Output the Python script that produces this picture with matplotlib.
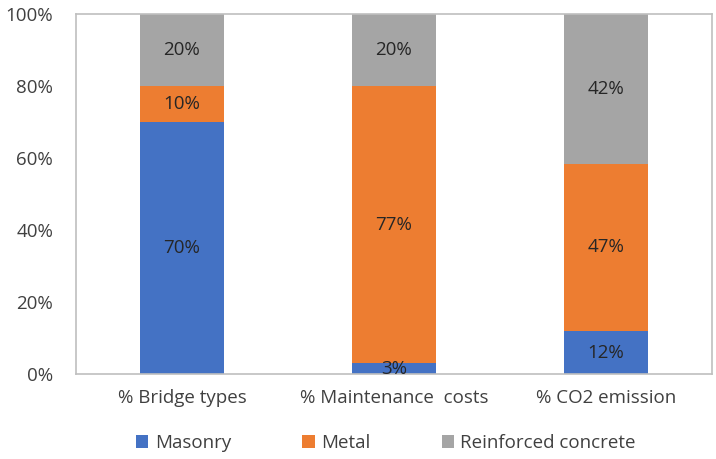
import matplotlib
matplotlib.use("Agg")
import matplotlib.pyplot as plt
import numpy as np

categories = ["% Bridge types", "% Maintenance  costs", "% CO2 emission"]
series_names = ["Masonry", "Metal", "Reinforced concrete"]
masonry = [70, 3, 12]
metal = [10, 77, 47]
concrete = [20, 20, 42]
colors = ["#4472C4", "#ED7D31", "#A5A5A5"]

plt.rcParams['font.family'] = ['Open Sans', 'DejaVu Sans']

fig = plt.figure(figsize=(7.16, 4.59), dpi=100)
ax = fig.add_axes([76/716, 1-374/459, 636/716, 360/459])

data = np.array([masonry, metal, concrete], dtype=float)
totals = data.sum(axis=0)
shares = data / totals * 100
x = np.arange(len(categories))
bottom = np.zeros(len(categories))
handles = []
for i, name in enumerate(series_names):
    b = ax.bar(x, shares[i], 0.4, bottom=bottom, color=colors[i], label=name)
    for j in range(len(categories)):
        ax.text(x[j], bottom[j] + shares[i][j] / 2, f"{int(data[i][j])}%",
                ha="center", va="center", fontsize=13.5, color="#262626")
    bottom += shares[i]
    handles.append(b)

ax.set_xlim(-0.5, 2.5)
ax.set_ylim(0, 100)
ax.set_yticks([0, 20, 40, 60, 80, 100])
ax.set_yticklabels([f"{v}%" for v in [0, 20, 40, 60, 80, 100]])
ax.set_xticks(x)
ax.set_xticklabels(categories)
ax.tick_params(axis='both', length=0, labelsize=13.5, colors="#404040")
ax.tick_params(axis='x', pad=11)
ax.tick_params(axis='y', pad=16.5)
for s in ax.spines.values():
    s.set_color("#BFBFBF")
    s.set_linewidth(1.2)

fig.legend(handles=handles, labels=series_names, loc="center",
           bbox_to_anchor=(386/716, 1-443/459), ncol=3, frameon=False,
           fontsize=13.5, handlelength=0.65, handleheight=0.65, handletextpad=0.35,
           columnspacing=3.8, labelcolor="#404040")

fig.savefig("out.png", dpi=100)
